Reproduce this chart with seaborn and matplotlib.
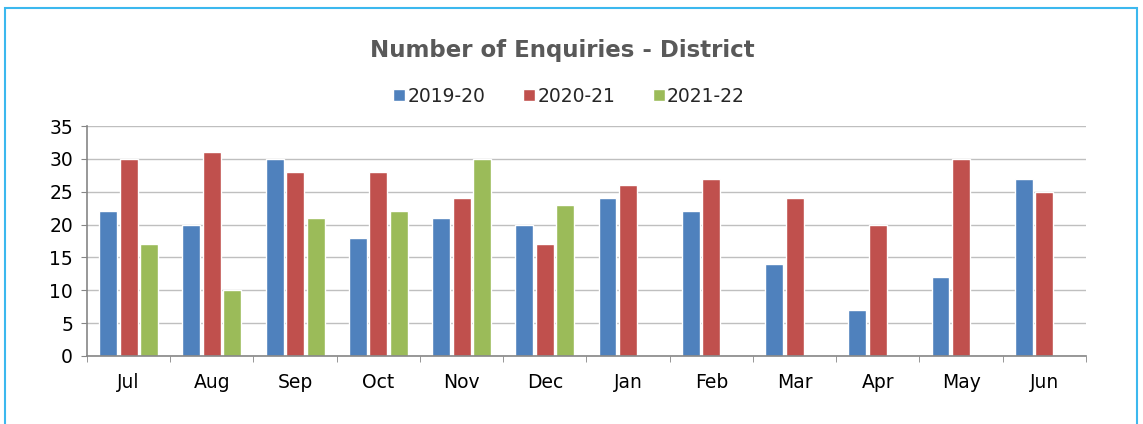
import pandas as pd
import matplotlib.pyplot as plt
import numpy as np
import seaborn as sns
from matplotlib.patches import Rectangle

months = ['Jul', 'Aug', 'Sep', 'Oct', 'Nov', 'Dec', 'Jan', 'Feb', 'Mar', 'Apr', 'May', 'Jun']
y2019 = [22, 20, 30, 18, 21, 20, 24, 22, 14, 7, 12, 27]
y2020 = [30, 31, 28, 28, 24, 17, 26, 27, 24, 20, 30, 25]
y2021 = [17, 10, 21, 22, 30, 23, np.nan, np.nan, np.nan, np.nan, np.nan, np.nan]
seasons = ['2019-20', '2020-21', '2021-22']
colors = ['#4F81BD', '#C0504D', '#9BBB59']

df = pd.DataFrame({'month': months * 3,
                   'season': np.repeat(seasons, len(months)),
                   'value': y2019 + y2020 + y2021})

sns.set_style('white')
plt.rcParams['font.family'] = ['DejaVu Sans']

fig = plt.figure(figsize=(11.43, 4.24), dpi=100)
ax = fig.add_axes([0.0761, 0.1604, 0.874, 0.5424])

sns.barplot(data=df, x='month', y='value', hue='season', palette=colors,
            width=0.74, gap=0.13, ax=ax, legend=True, saturation=1)

ax.set_ylim(0, 35)
ax.set_yticks(range(0, 36, 5))
ax.set_xlim(-0.5, 11.5)
ax.set_xlabel('')
ax.set_ylabel('')
ax.yaxis.grid(True, color='#BFBFBF', lw=1)
ax.set_axisbelow(True)
for s in ['top', 'right']:
    ax.spines[s].set_visible(False)
for s in ['left', 'bottom']:
    ax.spines[s].set_color('#868686')
    ax.spines[s].set_linewidth(1.2)

ax.tick_params(axis='y', left=True, length=4, color='#868686', labelsize=13.5,
               pad=6, labelcolor='black')
ax.tick_params(axis='x', which='major', length=0, labelsize=13.5, pad=12,
               labelcolor='black')
ax.set_xticks(np.arange(-0.5, 12, 1), minor=True)
ax.tick_params(axis='x', which='minor', bottom=True, length=4, color='#868686')

fig.text(0.492, 0.882, 'Number of Enquiries - District', ha='center', va='center',
         fontsize=16.5, fontweight='bold', color='#595959')

ax.legend(loc='center', bbox_to_anchor=(0.4825, 1.13), ncol=3, frameon=False,
          fontsize=13.5, handlelength=0.65, handleheight=0.65, handletextpad=0.12,
          columnspacing=2.0)

fig.patches.append(Rectangle((5 / 1143, -0.05), 1132 / 1143, 1.05 - 8 / 424,
                             transform=fig.transFigure, fill=False,
                             edgecolor='#3CB8EE', lw=1.5))

plt.savefig('out.png', dpi=100)
